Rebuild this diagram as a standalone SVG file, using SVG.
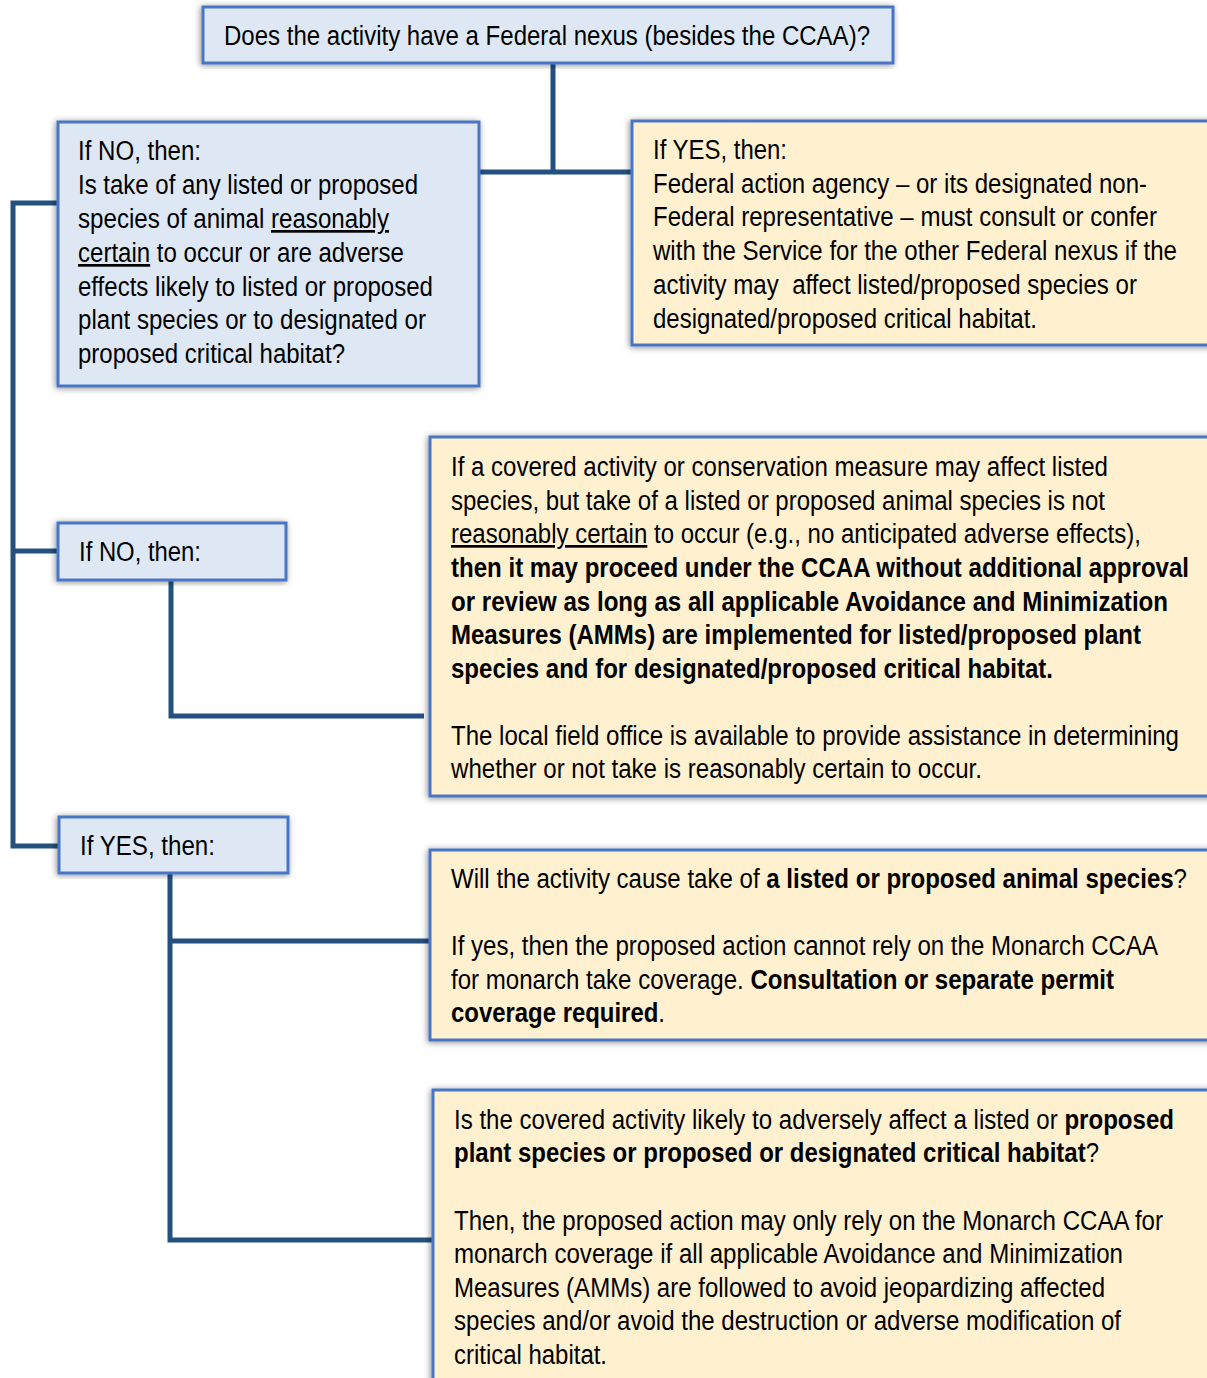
<svg xmlns="http://www.w3.org/2000/svg" width="1207" height="1378" viewBox="0 0 1207 1378">
<style>
.q{fill:#dee8f5;stroke:#4a76c4;stroke-width:3;filter:url(#sh)}
.a{fill:#fff1cf;stroke:#4a76c4;stroke-width:3;filter:url(#sh)}
.t{font-family:"Liberation Sans Narrow","Arial Narrow","Liberation Sans",sans-serif;font-size:27px;fill:#000}
.b{font-weight:bold}
.u{text-decoration:underline}
.c{fill:none;stroke:#23507e;stroke-width:5;stroke-linejoin:miter;stroke-linecap:butt}
</style>
<defs>
<filter id="sh" x="-10%" y="-10%" width="120%" height="120%">
<feDropShadow dx="-1" dy="1" stdDeviation="3" flood-color="#000" flood-opacity="0.45"/>
</filter>
</defs>
<rect width="1207" height="1378" fill="#fff"/>
<g id="connectors">
<path class="c" d="M553 63 V172 M479 172 H632"/>
<path class="c" d="M58 203 H13 V846 H59 M13 551 H58"/>
<path class="c" d="M171 580 V716 H424"/>
<path class="c" d="M170 873 V1240 H433 M170 941 H430"/>
</g>
<g id="q_federal">
<rect class="q" x="203" y="7" width="690" height="56"/>
<text class="t" x="224" y="45" textLength="646" lengthAdjust="spacingAndGlyphs">Does the activity have a Federal nexus (besides the CCAA)?</text>
</g>
<g id="q_take">
<rect class="q" x="58" y="122" width="421" height="264"/>
<text class="t" x="78" y="160" textLength="123" lengthAdjust="spacingAndGlyphs">If NO, then:</text>
<text class="t" x="78" y="194" textLength="340" lengthAdjust="spacingAndGlyphs">Is take of any listed or proposed</text>
<text class="t" x="78" y="228" textLength="311" lengthAdjust="spacingAndGlyphs">species of animal <tspan class="u">reasonably</tspan></text>
<text class="t" x="78" y="262" textLength="326" lengthAdjust="spacingAndGlyphs"><tspan class="u">certain</tspan> to occur or are adverse</text>
<text class="t" x="78" y="296" textLength="355" lengthAdjust="spacingAndGlyphs">effects likely to listed or proposed</text>
<text class="t" x="78" y="329" textLength="348" lengthAdjust="spacingAndGlyphs">plant species or to designated or</text>
<text class="t" x="78" y="363" textLength="267" lengthAdjust="spacingAndGlyphs">proposed critical habitat?</text>
</g>
<g id="a_consult">
<rect class="a" x="632" y="121" width="590" height="224"/>
<text class="t" x="653" y="159" textLength="134" lengthAdjust="spacingAndGlyphs">If YES, then:</text>
<text class="t" x="653" y="193" textLength="494" lengthAdjust="spacingAndGlyphs">Federal action agency – or its designated non-</text>
<text class="t" x="653" y="226" textLength="504" lengthAdjust="spacingAndGlyphs">Federal representative – must consult or confer</text>
<text class="t" x="653" y="260" textLength="524" lengthAdjust="spacingAndGlyphs">with the Service for the other Federal nexus if the</text>
<text class="t" x="653" y="294" textLength="484" lengthAdjust="spacingAndGlyphs" xml:space="preserve">activity may  affect listed/proposed species or</text>
<text class="t" x="653" y="328" textLength="384" lengthAdjust="spacingAndGlyphs">designated/proposed critical habitat.</text>
</g>
<g id="q_no">
<rect class="q" x="58" y="523" width="228" height="57"/>
<text class="t" x="79" y="561" textLength="122" lengthAdjust="spacingAndGlyphs">If NO, then:</text>
</g>
<g id="a_proceed">
<rect class="a" x="430" y="437" width="790" height="359"/>
<text class="t" x="451" y="476" textLength="657" lengthAdjust="spacingAndGlyphs">If a covered activity or conservation measure may affect listed</text>
<text class="t" x="451" y="510" textLength="654" lengthAdjust="spacingAndGlyphs">species, but take of a listed or proposed animal species is not</text>
<text class="t" x="451" y="543" textLength="690" lengthAdjust="spacingAndGlyphs"><tspan class="u">reasonably certain</tspan> to occur (e.g., no anticipated adverse effects),</text>
<text class="t b" x="451" y="577" textLength="738" lengthAdjust="spacingAndGlyphs">then it may proceed under the CCAA without additional approval</text>
<text class="t b" x="451" y="611" textLength="717" lengthAdjust="spacingAndGlyphs">or review as long as all applicable Avoidance and Minimization</text>
<text class="t b" x="451" y="644" textLength="690" lengthAdjust="spacingAndGlyphs">Measures (AMMs) are implemented for listed/proposed plant</text>
<text class="t b" x="451" y="678" textLength="602" lengthAdjust="spacingAndGlyphs">species and for designated/proposed critical habitat.</text>
<text class="t" x="451" y="745" textLength="728" lengthAdjust="spacingAndGlyphs">The local field office is available to provide assistance in determining</text>
<text class="t" x="451" y="778" textLength="531" lengthAdjust="spacingAndGlyphs">whether or not take is reasonably certain to occur.</text>
</g>
<g id="q_yes">
<rect class="q" x="59" y="817" width="229" height="56"/>
<text class="t" x="80" y="855" textLength="135" lengthAdjust="spacingAndGlyphs">If YES, then:</text>
</g>
<g id="a_animal">
<rect class="a" x="430" y="850" width="790" height="190"/>
<text class="t" x="451" y="888" textLength="736" lengthAdjust="spacingAndGlyphs">Will the activity cause take of <tspan class="b">a listed or proposed animal species</tspan>?</text>
<text class="t" x="451" y="955" textLength="707" lengthAdjust="spacingAndGlyphs">If yes, then the proposed action cannot rely on the Monarch CCAA</text>
<text class="t" x="451" y="989" textLength="663" lengthAdjust="spacingAndGlyphs">for monarch take coverage. <tspan class="b">Consultation or separate permit</tspan></text>
<text class="t" x="451" y="1022" textLength="214" lengthAdjust="spacingAndGlyphs"><tspan class="b">coverage required</tspan>.</text>
</g>
<g id="a_plant">
<rect class="a" x="433" y="1090" width="790" height="300"/>
<text class="t" x="454" y="1129" textLength="720" lengthAdjust="spacingAndGlyphs">Is the covered activity likely to adversely affect a listed or <tspan class="b">proposed</tspan></text>
<text class="t" x="454" y="1162" textLength="645" lengthAdjust="spacingAndGlyphs"><tspan class="b">plant species or proposed or designated critical habitat</tspan>?</text>
<text class="t" x="454" y="1230" textLength="709" lengthAdjust="spacingAndGlyphs">Then, the proposed action may only rely on the Monarch CCAA for</text>
<text class="t" x="454" y="1263" textLength="669" lengthAdjust="spacingAndGlyphs">monarch coverage if all applicable Avoidance and Minimization</text>
<text class="t" x="454" y="1297" textLength="651" lengthAdjust="spacingAndGlyphs">Measures (AMMs) are followed to avoid jeopardizing affected</text>
<text class="t" x="454" y="1330" textLength="667" lengthAdjust="spacingAndGlyphs">species and/or avoid the destruction or adverse modification of</text>
<text class="t" x="454" y="1364" textLength="153" lengthAdjust="spacingAndGlyphs">critical habitat.</text>
</g>
</svg>
